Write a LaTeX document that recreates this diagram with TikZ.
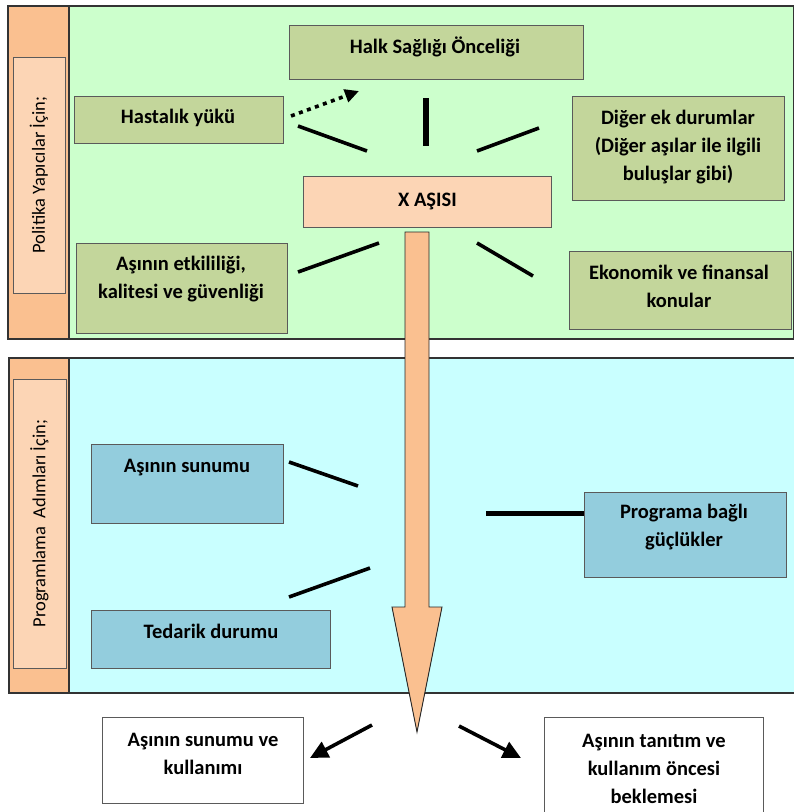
\documentclass[tikz,border=0pt]{standalone}
\usepackage{fontspec}
\setmainfont{Carlito}
\usetikzlibrary{calc,positioning,arrows.meta}
\definecolor{panelgreen}{HTML}{CCFFCC}
\definecolor{panelcyan}{HTML}{C9FFFF}
\definecolor{olive}{HTML}{C3D69B}
\definecolor{aqua}{HTML}{93CDDD}
\definecolor{band}{HTML}{FAC090}
\definecolor{peach}{HTML}{FCD5B5}
\definecolor{edge}{HTML}{5A5A5A}

\begin{document}
\begin{tikzpicture}[x=1pt,y=-1pt,
  panel/.style={draw=black!80,line width=1.6pt,inner sep=0pt,anchor=north west},
  boxed/.style={draw=edge,line width=0.8pt,inner sep=0pt,anchor=north west},
  sidelabel/.style={draw=edge,line width=0.8pt,fill=peach,rotate=90,inner sep=0pt,font=\fontsize{18.5}{22}\selectfont},
  txt/.style={align=center,inner sep=0pt,font=\fontsize{20.5}{28}\selectfont\bfseries},
  spoke/.style={line width=3.6pt},
  bigarrow/.style={draw=black!85,line width=0.9pt,fill=band,line join=miter},
]
\useasboundingbox (0,0) rectangle (794,812);

% panels
\node[panel,fill=panelgreen,minimum width=786,minimum height=333] (politika) at (7,5) {};
\node[panel,fill=band,minimum width=61,minimum height=333] (politika-band) at (7,5) {};
\node[sidelabel,minimum width=236,minimum height=52] (politika-lbl) at (39,175) {Politika Yapıcılar İçin;};

\node[panel,fill=panelcyan,minimum width=786,minimum height=335] (program) at (8,357) {};
\node[panel,fill=band,minimum width=60,minimum height=335] (program-band) at (8,357) {};
\node[sidelabel,minimum width=289,minimum height=53] (program-lbl) at (39.5,523.5) {Programlama~~Adımları İçin;};

% boxes of the upper panel
\node[boxed,fill=olive,minimum width=294,minimum height=54] (halk) at (289,25) {};
\node[txt] (halk-t) at (435,47) {Halk Sağlığı Önceliği};
\node[boxed,fill=olive,minimum width=209,minimum height=47] (hastalik) at (74,96) {};
\node[txt] (hastalik-t) at (178,118) {Hastalık yükü};
\node[boxed,fill=olive,minimum width=212,minimum height=104] (diger) at (572,96) {};
\node[txt] (diger-t) at (678,147) {Diğer ek durumlar\\(Diğer aşılar ile ilgili\\buluşlar gibi)};
\node[boxed,fill=peach,minimum width=248,minimum height=51,txt,anchor=north west] (xasi) at (303,176) {X AŞISI};
\node[boxed,fill=olive,minimum width=211,minimum height=90] (etkinlik) at (76,243) {};
\node[txt] (etkinlik-t) at (181,279) {Aşının etkililiği,\\kalitesi ve güvenliği};
\node[boxed,fill=olive,minimum width=222,minimum height=78] (ekonomik) at (569,251) {};
\node[txt] (ekonomik-t) at (679,286) {Ekonomik ve finansal\\konular};

% boxes of the lower panel
\node[boxed,fill=aqua,minimum width=192,minimum height=79] (sunum) at (91,444) {};
\node[txt] (sunum-t) at (187,468) {Aşının sunumu};
\node[boxed,fill=aqua,minimum width=239,minimum height=58] (tedarik) at (91,610) {};
\node[txt] (tedarik-t) at (211,631) {Tedarik durumu};
\node[boxed,fill=aqua,minimum width=202,minimum height=85] (guclukler) at (584,492) {};
\node[txt] (guclukler-t) at (684,527) {Programa bağlı\\güçlükler};

% outcome boxes
\node[boxed,fill=white,minimum width=201,minimum height=86] (kullanim) at (102,717) {};
\node[txt] (kullanim-t) at (203,754) {Aşının sunumu ve\\kullanımı};
\node[boxed,fill=white,minimum width=219,minimum height=110] (bekleme) at (544,717) {};
\node[txt] (bekleme-t) at (654,769) {Aşının tanıtım ve\\kullanım öncesi\\beklemesi};

% spokes round the vaccine
\foreach \xa/\ya/\xb/\yb [count=\k] in {298/126/367/151, 477/151/539/128, 298/272/379/243, 477/243/533/276, 289/462/358/486, 289/597/370/568} {
  \coordinate (sp\k a) at (\xa,\ya);
  \coordinate (sp\k b) at (\xb,\yb);
  \draw[spoke] (sp\k a) -- (sp\k b);
}
\coordinate (bar-top) at (426,98);
\coordinate (bar-bot) at (426,146);
\draw[line width=5.5pt] (bar-top) -- (bar-bot);
\coordinate (gl-start) at (486,513);
\draw[line width=5pt] (gl-start) -- (guclukler.west |- gl-start);

% dotted arrow towards the priority box
\coordinate (dot-a) at (291,116);
\coordinate (dot-b) at (359,91);
\draw[line width=3.6pt,dash pattern=on 4pt off 4.5pt,-{Triangle[length=14pt,width=13pt]}] (dot-a) -- (dot-b);

% the big arrow
\draw[bigarrow] (405,232) -- (405,607) -- (392,607) -- (417,732) -- (442,607) -- (429,607) -- (429,232) -- cycle;

% outcome arrows
\coordinate (out-l) at (372,725);
\coordinate (out-r) at (459,726);
\draw[line width=3.6pt,-{Triangle[length=18pt,width=17pt]}] (out-l) -- (310,758);
\draw[line width=3.6pt,-{Triangle[length=18pt,width=17pt]}] (out-r) -- (521,758);
\end{tikzpicture}
\end{document}
